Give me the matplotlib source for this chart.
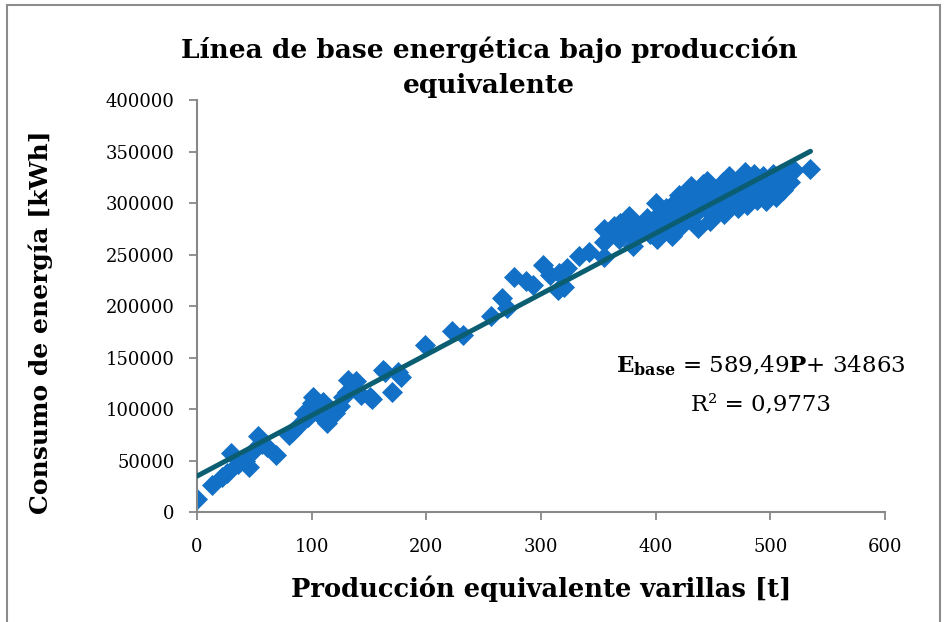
import numpy as np
import matplotlib.pyplot as plt
from matplotlib.patches import Rectangle

# datos: producción [t] y consumo [kWh]
prod = [0, 13, 22, 26, 30, 36, 42, 45, 50, 53, 57, 61, 69, 80, 83, 88, 93, 97,
        100, 101, 104, 107, 110, 113, 116, 120, 125, 127, 131, 132, 139, 143,
        151, 153, 162, 164, 170, 175, 178, 199, 222, 232, 256, 266, 270, 276,
        287, 293, 302, 308, 316, 315, 320, 323, 333, 342, 355, 369, 377,
        355, 355, 360, 364, 368, 372, 376, 379, 380, 384, 388, 392, 395, 398,
        400, 401, 404, 406, 409, 411, 414, 416, 418, 420, 422, 425, 427, 429,
        431, 433, 435, 437, 439, 441, 443, 445, 447, 449, 451, 453, 455, 457,
        459, 460, 462, 464, 466, 468, 470, 472, 474, 476, 478, 480, 482, 484,
        486, 488, 490, 492, 494, 496, 498, 500, 502, 505, 508, 511, 514, 517,
        521, 535]
consumo = [13000, 26000, 34000, 38000, 57000, 47000, 50000, 44000, 60000,
           74000, 66000, 63000, 55000, 75000, 78000, 84000, 96000, 92000,
           106000, 112000, 98000, 94000, 107000, 86000, 100000, 96000, 103000,
           112000, 117000, 128000, 127000, 114000, 112000, 110000, 138000,
           136000, 117000, 136000, 131000, 162000, 176000, 172000, 190000,
           208000, 198000, 228000, 224000, 220000, 240000, 230000, 232000,
           216000, 218000, 237000, 249000, 252000, 248000, 281000, 287000,
           275000, 262000, 270000, 278000, 265000, 281000, 272000, 283000,
           258000, 268000, 276000, 285000, 270000, 280000, 300000, 265000,
           290000, 275000, 295000, 283000, 268000, 300000, 288000, 308000,
           278000, 295000, 312000, 285000, 317000, 300000, 290000, 276000,
           306000, 318000, 295000, 321000, 283000, 310000, 300000, 290000,
           316000, 305000, 320000, 289000, 298000, 326000, 310000, 303000,
           318000, 295000, 325000, 308000, 330000, 298000, 318000, 312000,
           328000, 303000, 322000, 310000, 326000, 302000, 318000, 312000,
           328000, 306000, 322000, 313000, 330000, 320000, 332000, 333000]

# línea de tendencia mostrada en el gráfico
pendiente = 589.49
intercepto = 34863
r2_txt = '0,9773'

plt.rcParams['font.family'] = 'DejaVu Serif'
plt.rcParams['mathtext.fontset'] = 'dejavuserif'

fig = plt.figure(figsize=(9.5, 6.22), dpi=100)
ax = fig.add_axes([0.2074, 0.1768, 0.7242, 0.6624])

ax.scatter(prod, consumo, marker='D', s=115, color='#1270C6', linewidths=0,
           zorder=2)
xt = np.array([0, max(prod)])
ax.plot(xt, pendiente * xt + intercepto, color='#0B5E72', lw=3.6,
        solid_capstyle='round', zorder=3)

ax.set_xlim(0, 600)
ax.set_ylim(0, 400000)
ax.set_xticks(range(0, 601, 100))
ax.set_yticks(range(0, 400001, 50000))
ax.tick_params(axis='x', direction='out', length=6, width=1.3,
               color='#888888', pad=13, labelsize=13)
ax.tick_params(axis='y', direction='out', length=6, width=1.3,
               color='#888888', pad=10, labelsize=13)
for s in ['top', 'right']:
    ax.spines[s].set_visible(False)
for s in ['left', 'bottom']:
    ax.spines[s].set_color('#888888')
    ax.spines[s].set_linewidth(1.5)

ax.set_xlabel('Producción equivalente varillas [t]', fontsize=18.5,
              fontweight='bold', labelpad=14)
ax.set_ylabel('Consumo de energía [kWh]', fontsize=18, fontweight='bold')
ax.yaxis.set_label_coords(-0.21, 0.461)
fig.text(0.515, 0.892, 'Línea de base energética bajo producción\nequivalente',
         ha='center', va='center', fontsize=19, fontweight='bold',
         linespacing=1.5)

ax.text(0.82, 0.355, r'$\mathbf{E}_{\mathbf{base}}$ = 589,49$\mathbf{P}$+ 34863',
        transform=ax.transAxes, ha='center', va='center', fontsize=16.5)
ax.text(0.82, 0.262, 'R² = ' + r2_txt, transform=ax.transAxes,
        ha='center', va='center', fontsize=16.5)

# marco del gráfico
fig.patches.append(Rectangle((0.007, -0.05), 0.982, 1.042,
                             transform=fig.transFigure, fill=False,
                             edgecolor='#8c8c8c', lw=1.5))

fig.savefig('out.png', dpi=100)
